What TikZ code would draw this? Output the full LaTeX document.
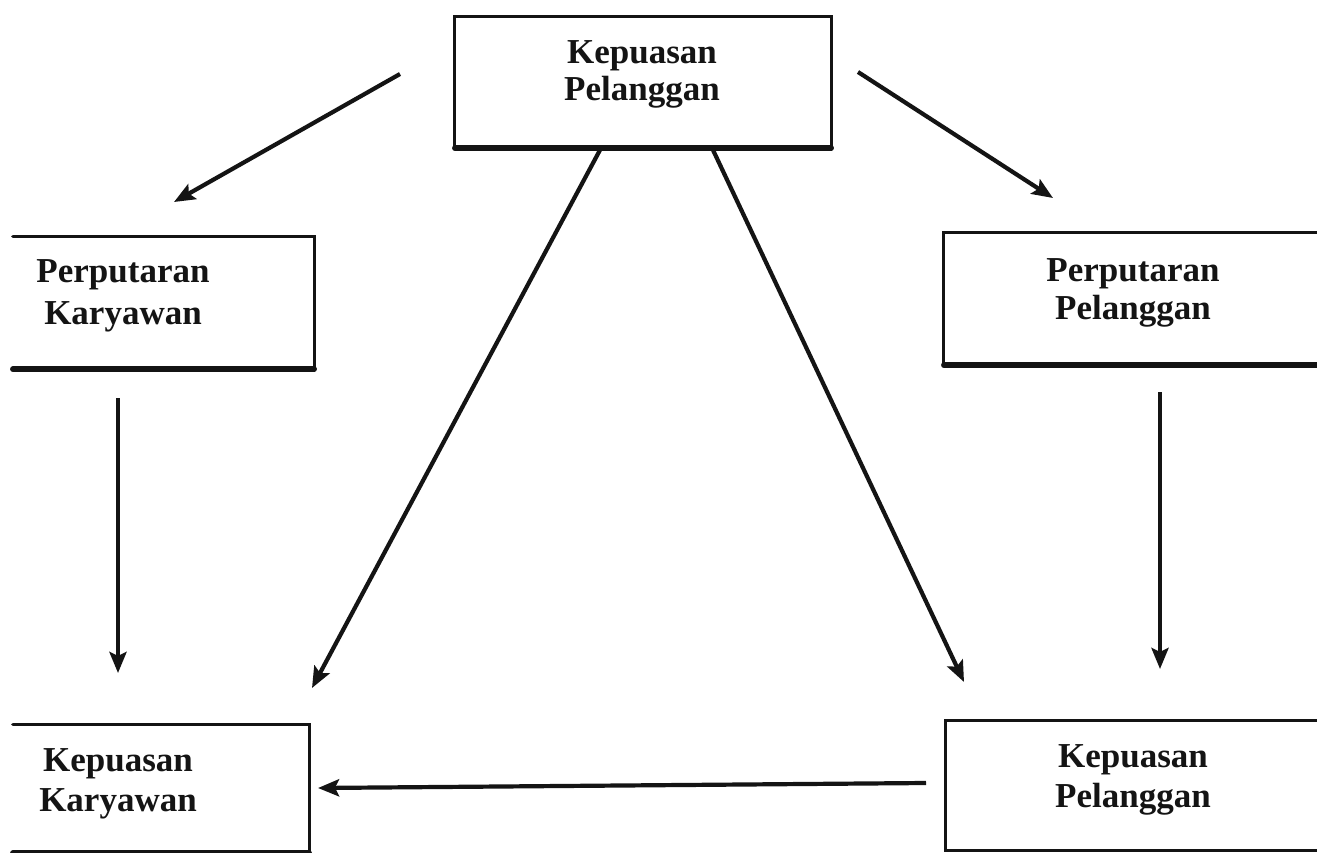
\documentclass[tikz,border=0pt]{standalone}
\usepackage{fontspec}
\setmainfont{Liberation Serif}
\usetikzlibrary{arrows.meta}
\definecolor{ink}{HTML}{141414}
\begin{document}
\begin{tikzpicture}[x=1pt,y=-1pt,
  boxarea/.style={rectangle, draw=none, inner sep=0pt, minimum width=#1},
  rim/.style={draw=ink, line width=3.2pt, line cap=round, line join=miter},
  base/.style={draw=ink, line width=5.5pt, line cap=round},
  lbl/.style={inner sep=0pt, align=center, text=ink,
    font=\fontsize{35}{#1}\selectfont\bfseries},
  arr/.style={draw=ink, line width=4.2pt,
    -{Stealth[length=21pt,width=17pt,inset=4pt]}}
]
\useasboundingbox[fill=white] (0,0) rectangle (1317,853);

% boxes
\node[boxarea=376, minimum height=131] (kpTop) at (643,82.5) {};
\node[boxarea=301, minimum height=132] (pk) at (163.5,303) {};
\node[boxarea=380, minimum height=132] (pp) at (1134,299) {};
\node[boxarea=296, minimum height=128] (kk) at (161,789) {};
\node[boxarea=380, minimum height=129] (kpBot) at (1136,785.5) {};

% frames (sides beyond the page edge are left open)
\draw[rim] (kpTop.south west) -- (kpTop.north west) -- (kpTop.north east) -- (kpTop.south east);
\draw[base] (kpTop.south west) -- (kpTop.south east);
\draw[rim] (pk.north west) -- (pk.north east) -- (pk.south east);
\draw[base] (pk.south west) -- (pk.south east);
\draw[rim] (pp.north east) -- (pp.north west) -- (pp.south west);
\draw[base] (pp.south west) -- (pp.south east);
\draw[rim] (kk.north west) -- (kk.north east) -- (kk.south east);
\draw[base] (kk.south west) -- (kk.south east);
\draw[rim] (kpBot.north east) -- (kpBot.north west) -- (kpBot.south west) -- (kpBot.south east);

% labels
\node[lbl=37] (tTop) at (642,74) {Kepuasan\\Pelanggan};
\node[lbl=42] (tPk) at (123,296) {Perputaran\\Karyawan};
\node[lbl=38] (tPp) at (1133,293) {Perputaran\\Pelanggan};
\node[lbl=40] (tKk) at (118,784) {Kepuasan\\Karyawan};
\node[lbl=40] (tKpB) at (1133,780) {Kepuasan\\Pelanggan};

% free ends of the connectors
\coordinate (a1s) at (400,74);
\coordinate (a1e) at (174,202);
\coordinate (a2s) at (858,72);
\coordinate (a2e) at (1053,198);
\coordinate (a3s) at (600,150);
\coordinate (a3e) at (312,688);
\coordinate (a4s) at (713,150);
\coordinate (a4e) at (964,682);
\coordinate (a5s) at (118,398);
\coordinate (a5e) at (118,673);
\coordinate (a6s) at (1160,392);
\coordinate (a6e) at (1160,669);
\coordinate (a7s) at (926,783);
\coordinate (a7e) at (318,788);

% connectors
\draw[arr] (a1s) -- (a1e);
\draw[arr] (a2s) -- (a2e);
\draw[arr] (a3s) -- (a3e);
\draw[arr] (a4s) -- (a4e);
\draw[arr] (a5s) -- (a5e);
\draw[arr] (a6s) -- (a6e);
\draw[arr] (a7s) -- (a7e);
\end{tikzpicture}
\end{document}
